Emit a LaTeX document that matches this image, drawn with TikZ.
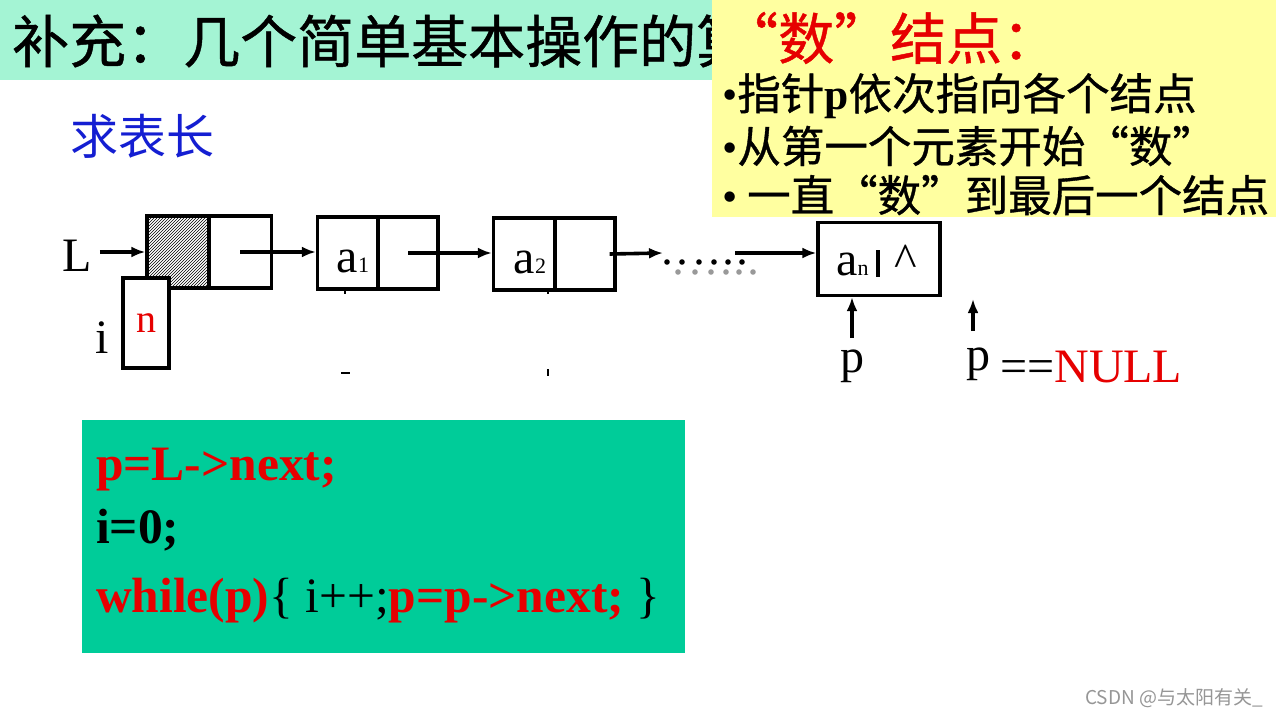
\documentclass[tikz,border=0pt]{standalone}
\usepackage{fontspec}
\setmainfont{Liberation Serif}
\newfontfamily\cjk{Noto Sans CJK SC}
\newfontfamily\cjkb[FakeBold=0.8]{Noto Sans CJK SC}
\usetikzlibrary{arrows.meta,patterns}
\definecolor{mint}{RGB}{164,244,212}
\definecolor{lemon}{RGB}{255,255,160}
\definecolor{codebg}{RGB}{0,204,153}
\definecolor{myred}{RGB}{230,0,0}
\definecolor{myblue}{RGB}{20,30,210}
\definecolor{wm}{RGB}{150,150,150}
\newcommand\subsz{\fontsize{22}{22}\selectfont}
\begin{document}
\begin{tikzpicture}[x=1pt,y=-1pt,
  cell/.style={draw,line width=3.3pt,minimum height=72pt,inner sep=0},
  arr/.style={line width=3.6pt,-{Latex[length=14pt,width=11pt]}},
  lbl/.style={inner sep=0,font=\fontsize{48}{48}\selectfont},
  codetxt/.style={inner sep=0,anchor=base west,font=\fontsize{49.5}{49.5}\selectfont\bfseries},
  yline/.style={inner sep=0,anchor=west,font=\cjkb\fontsize{43.5}{43.5}\selectfont},
  dotb/.style={fill=black},
  dotg/.style={fill=black!40}
]
\useasboundingbox (0,0) rectangle (1280,720);
\fill[white] (0,0) rectangle (1280,720);
% title band
\fill[mint] (0,0) rectangle (716,80);
\begin{scope}
\clip (0,0) rectangle (712,80);
\node[anchor=west,inner sep=0,font=\cjkb\fontsize{57}{57}\selectfont] (title) at (12,41) {补充：几个简单基本操作的算};
\end{scope}
% yellow note
\fill[lemon] (712,0) rectangle (1276,217);
\node[anchor=west,inner sep=0,font=\cjkb\fontsize{56}{56}\selectfont,text=myred] (yh) at (722,38) {“数”结点：};
\node[yline] (y1) at (722,96) {{\normalfont •}指针{\normalfont\bfseries p}依次指向各个结点};
\node[yline] (y2) at (722,146) {{\normalfont •}从第一个元素开始“数”};
\node[yline] (y3) at (722,195) {{\normalfont •} 一直“数”到最后一个结点};
% blue heading
\node[anchor=west,inner sep=0,font=\cjk\fontsize{48}{48}\selectfont,text=myblue] (qb) at (70,136) {求表长};
% head node
\node[cell,minimum width=62pt,pattern=north east lines] (h1) at (178,252) {};
\node[cell,minimum width=63pt] (h2) at (240,252) {};
\node[lbl] (L) at (77,256) {L};
\draw[arr] ([xshift=8pt]L.east |- h1.west) -- (h1.west);
% i box
\node[draw,line width=4pt,fill=white,minimum width=46pt,minimum height=90pt,inner sep=0,
      font=\fontsize{40}{40}\selectfont,text=myred] (ibox) at (146,323) {n};
\node[lbl] (ilbl) at (102,338) {i};
% a1
\node[cell,minimum width=61pt] (a1l) at (348,253) {};
\node[cell,minimum width=60pt] (a1r) at (408,253) {};
\node[lbl,anchor=base] (a1t) at (353,272) {a{\subsz 1}};
% a2
\node[cell,minimum width=61pt] (a2l) at (524,254) {};
\node[cell,minimum width=60pt] (a2r) at (585,254) {};
\node[lbl,anchor=base] (a2t) at (530,273) {a{\subsz 2}};
\draw[arr] (h2.center) -- (a1l.west |- h2.center);
\draw[arr] (a1r.center) -- (a2l.west |- a1r.center);
% dots
\coordinate (d0) at (663,253);
\coordinate (d1) at (735,253);
\draw[arr] ([xshift=-7pt]a2r.east) -- (d0);
\foreach \x in {678,695,711,726,739,753} \fill[dotg] (\x,272) circle (2.8);
\foreach \x in {667,682,699,714,728,742} \fill[dotb] (\x,262) circle (2.8);
% an
\node[cell,minimum width=122pt,minimum height=73pt] (an) at (879,259) {};
\draw[arr] (d1) -- (an.west |- d1);
\node[lbl,anchor=base west] (ant) at (836,275) {a{\subsz n}};
\draw[line width=3.5pt] (878,250) -- (878,277);
\node[lbl,anchor=base] (caret) at (906,276) {\^{}};
% p pointers
\node[lbl,anchor=base] (p1) at (852,372) {p};
\draw[arr] ([yshift=11pt]p1.north) -- (p1.north |- an.south);
\node[lbl,anchor=base] (p2) at (978,370) {p};
\coordinate (q0) at (973,331);
\coordinate (q1) at (973,299);
\draw[arr] (q0) -- (q1);
\node[lbl,anchor=base west] (null) at (1000,382) {==\textcolor{myred}{NULL}};
% small leftover marks
\draw[line width=1.5pt] (345,289) -- (345,294);
\draw[line width=2pt] (341,373) -- (350,373);
\draw[line width=1.5pt] (548,289) -- (548,294);
\draw[line width=2.5pt] (548,369) -- (548,376);
% code box
\node[fill=codebg,minimum width=603pt,minimum height=233pt,anchor=north west,inner sep=0] (code) at (82,420) {};
\node[codetxt,text=myred] (c1) at (96,480) {p=L->next;};
\node[codetxt] (c2) at (96,543) {i=0;};
\node[codetxt] (c3) at (96,612) {\textcolor{myred}{while(p)}{\mdseries\{ i++;}\textcolor{myred}{p=p->next;}{\mdseries\ \}}};
% watermark
\node[anchor=west,inner sep=0,text=wm,font=\cjk\fontsize{19}{19}\selectfont] (wm) at (1085,698) {CSDN @与太阳有关\_};
\end{tikzpicture}
\end{document}
